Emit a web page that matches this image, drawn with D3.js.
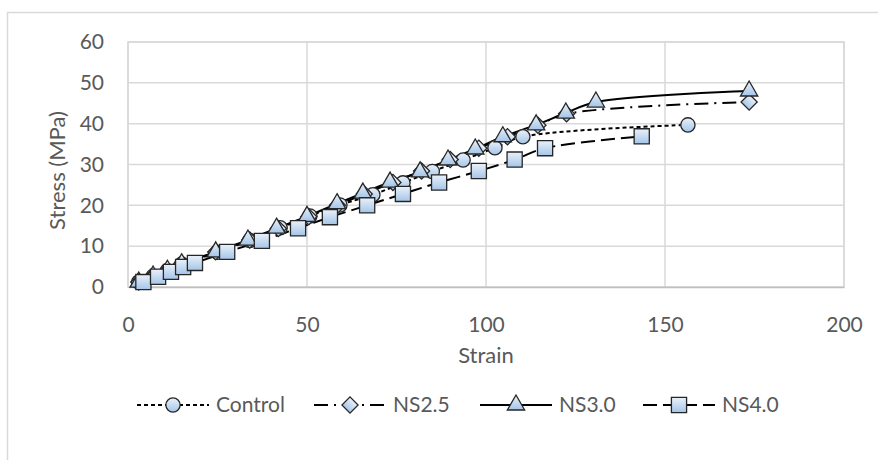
<!DOCTYPE html>
<html>
<head>
<meta charset="utf-8">
<script src="https://cdn.jsdelivr.net/npm/d3@7"></script>
<style>
  body { margin: 0; background: #fff; }
  text { font-family: Lato, "Open Sans", sans-serif; fill: #595959; }
</style>
</head>
<body>
<div id="plotSect"></div>
<script>
// data //

let seriesNames = ["Control", "NS2.5", "NS3.0", "NS4.0"];

let controlStrain = [3, 7, 11, 15, 25, 34, 42.5, 50.8, 59.2, 68.4, 76.8, 85, 93.6, 102.5, 110.3, 156.4];
let controlStress = [1.2, 2.6, 4.0, 5.6, 8.5, 11.4, 14.5, 17.4, 20.1, 22.6, 25.5, 28.3, 31.1, 34.1, 36.8, 39.7];

let ns25Strain = [3, 7, 11, 15, 24.5, 34, 42, 50.5, 58.5, 66, 74, 82, 90, 98, 106, 114.5, 122.5, 173.5];
let ns25Stress = [1.2, 2.7, 4.1, 5.7, 8.6, 11.5, 14.3, 17.2, 20.0, 22.8, 25.6, 28.4, 31.2, 34.0, 36.8, 39.6, 42.4, 45.3];

let ns30Strain = [3, 7, 11, 15, 24.5, 33.5, 41.5, 50, 58.4, 65.6, 73.2, 81.6, 89.4, 97, 104.7, 114, 122.3, 130.7, 173.5];
let ns30Stress = [1.2, 2.7, 4.1, 5.7, 8.6, 11.5, 14.4, 17.3, 20.4, 23.0, 25.7, 28.2, 31.1, 33.8, 36.8, 39.7, 42.6, 45.3, 48.0];

let ns40Strain = [4.3, 8.4, 12, 15.4, 18.7, 27.7, 37.4, 47.5, 56.4, 66.8, 76.8, 86.9, 98, 108, 116.5, 143.5];
let ns40Stress = [1.2, 2.5, 3.7, 4.9, 5.9, 8.6, 11.3, 14.4, 17.1, 20.0, 22.8, 25.6, 28.4, 31.2, 34.0, 36.9];

let xTicks = [0, 50, 100, 150, 200];
let yTicks = [0, 10, 20, 30, 40, 50, 60];

// chart setup //

let SVGwidth = 878,
    SVGheight = 460,
    margin = {top: 42, right: 34, bottom: 173, left: 128},
    width = SVGwidth - margin.left - margin.right,
    height = SVGheight - margin.top - margin.bottom;

let root = d3.select("#plotSect").append("svg")
    .attr("width", SVGwidth)
    .attr("height", SVGheight);

let defs = root.append("defs");
let grad = defs.append("linearGradient")
    .attr("id", "markFill")
    .attr("x1", 0).attr("y1", 0).attr("x2", 0).attr("y2", 1);
grad.append("stop").attr("offset", "0%").attr("stop-color", "#eaf1fa");
grad.append("stop").attr("offset", "100%").attr("stop-color", "#a4c5e8");

// chart border
root.append("path")
    .attr("d", "M7.5," + SVGheight + " V12.5 H" + SVGwidth)
    .attr("fill", "none")
    .attr("stroke", "#d9d9d9")
    .attr("stroke-width", 1.5);

let svg = root.append("g")
    .attr("transform", "translate(" + margin.left + "," + margin.top + ")");

let xScale = d3.scaleLinear().domain([0, 200]).range([0, width]);
let yScale = d3.scaleLinear().domain([0, 60]).range([height, 0]);

// gridlines
svg.append("g")
    .selectAll("line")
    .data(yTicks)
    .enter().append("line")
    .attr("x1", 0).attr("x2", width)
    .attr("y1", function(d) { return yScale(d); })
    .attr("y2", function(d) { return yScale(d); })
    .attr("stroke", "#d9d9d9")
    .attr("stroke-width", 1.5);

svg.append("g")
    .selectAll("line")
    .data(xTicks)
    .enter().append("line")
    .attr("y1", 0).attr("y2", height)
    .attr("x1", function(d) { return xScale(d); })
    .attr("x2", function(d) { return xScale(d); })
    .attr("stroke", "#d9d9d9")
    .attr("stroke-width", 1.5);

// axes
let xAxis = d3.axisBottom(xScale).tickValues(xTicks).tickSize(0).tickPadding(38);
let yAxis = d3.axisLeft(yScale).tickValues(yTicks).tickSize(0).tickPadding(24);

svg.append("g")
    .attr("transform", "translate(0," + height + ")")
    .call(xAxis)
    .call(function(g) { g.select(".domain").attr("stroke", "#bfbfbf").attr("stroke-width", 1.5); })
    .selectAll("text")
    .attr("dy", "0.35em")
    .style("font-size", "21px")
    .attr("fill", "#595959");

svg.append("g")
    .call(yAxis)
    .call(function(g) { g.select(".domain").remove(); })
    .selectAll("text")
    .style("font-size", "21px")
    .attr("fill", "#595959");

svg.append("text")
    .attr("x", width / 2)
    .attr("y", height + 76)
    .style("text-anchor", "middle")
    .style("font-size", "22px")
    .text("Strain");

svg.append("text")
    .attr("transform", "rotate(-90)")
    .attr("x", -height / 2 - 6)
    .attr("y", -63)
    .style("text-anchor", "middle")
    .style("font-size", "22px")
    .text("Stress (MPa)");

// series //

function zip(xs, ys) {
    return xs.map(function(x, i) { return {x: x, y: ys[i]}; });
}

let series = [
    {name: seriesNames[0], data: zip(controlStrain, controlStress), dash: "4,3", symbol: d3.symbolCircle, size: 160, rot: 0},
    {name: seriesNames[1], data: zip(ns25Strain, ns25Stress), dash: "14,6,2,6", symbol: d3.symbolSquare, size: 130, rot: 45},
    {name: seriesNames[2], data: zip(ns30Strain, ns30Stress), dash: null, symbol: d3.symbolTriangle, size: 130, rot: 0},
    {name: seriesNames[3], data: zip(ns40Strain, ns40Stress), dash: "14,6", symbol: d3.symbolSquare, size: 230, rot: 0}
];

let line = d3.line()
    .x(function(d) { return xScale(d.x); })
    .y(function(d) { return yScale(d.y); })
    .curve(d3.curveCatmullRom.alpha(0.5));

function markPath(s) {
    return d3.symbol().type(s.symbol).size(s.size)();
}

series.forEach(function(s) {
    svg.append("path")
        .datum(s.data)
        .attr("fill", "none")
        .attr("stroke", "#000")
        .attr("stroke-width", 2)
        .attr("stroke-dasharray", s.dash)
        .attr("d", line);
});

series.forEach(function(s) {
    svg.append("g")
        .selectAll("path")
        .data(s.data)
        .enter().append("path")
        .attr("d", markPath(s))
        .attr("transform", function(d) { return "translate(" + xScale(d.x) + "," + yScale(d.y) + ") rotate(" + s.rot + ")"; })
        .attr("fill", "url(#markFill)")
        .attr("stroke", "#262626")
        .attr("stroke-width", 1.3);
});

// plot area border (drawn under the marks)
svg.append("rect")
    .attr("width", width)
    .attr("height", height)
    .attr("fill", "none")
    .attr("stroke", "#d9d9d9")
    .attr("stroke-width", 1.5)
    .lower();

// legend //

let legendX = [137, 314, 480, 643];
let legendY = 405;
let legend = root.selectAll(".legend")
    .data(series)
    .enter().append("g")
    .attr("class", "legend")
    .attr("transform", function(d, i) { return "translate(" + legendX[i] + "," + legendY + ")"; });

legend.append("line")
    .attr("x1", 0).attr("x2", 72)
    .attr("stroke", "#000")
    .attr("stroke-width", 2)
    .attr("stroke-dasharray", function(d) { return d.dash; });

legend.append("path")
    .attr("d", function(d) { return markPath(d); })
    .attr("transform", function(d) { return "translate(36,0) rotate(" + d.rot + ")"; })
    .attr("fill", "url(#markFill)")
    .attr("stroke", "#262626")
    .attr("stroke-width", 1.3);

legend.append("text")
    .attr("x", 79)
    .attr("dy", "0.35em")
    .style("font-size", "21px")
    .text(function(d) { return d.name; });
</script>
</body>
</html>
